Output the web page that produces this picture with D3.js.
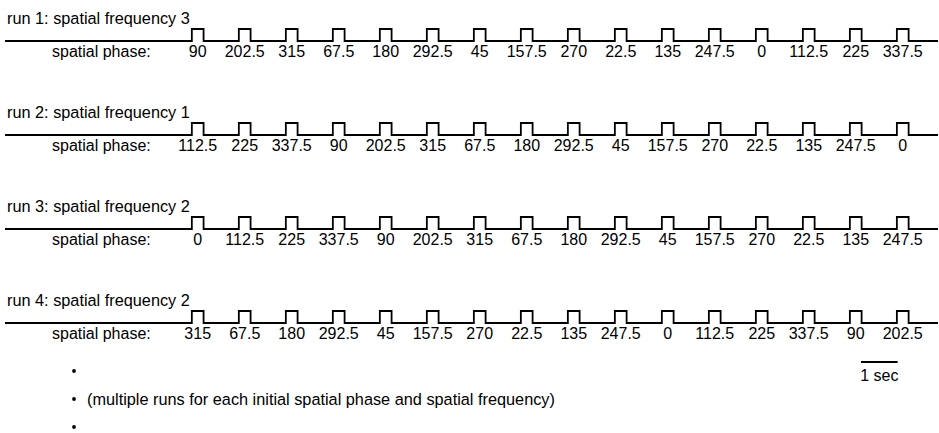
<!DOCTYPE html>
<html><head><meta charset="utf-8">
<script src="https://cdn.jsdelivr.net/npm/d3@7"></script>
<style>
html,body{margin:0;padding:0;background:#fff;}
svg{display:block;}
text{font-family:"Liberation Sans",Arial,sans-serif;fill:#000;}
</style></head>
<body>
<script>
// ---- data ----
const runTitles = ["run 1: spatial frequency 3","run 2: spatial frequency 1","run 3: spatial frequency 2","run 4: spatial frequency 2"];
const run1Phases = [90,202.5,315,67.5,180,292.5,45,157.5,270,22.5,135,247.5,0,112.5,225,337.5];
const run2Phases = [112.5,225,337.5,90,202.5,315,67.5,180,292.5,45,157.5,270,22.5,135,247.5,0];
const run3Phases = [0,112.5,225,337.5,90,202.5,315,67.5,180,292.5,45,157.5,270,22.5,135,247.5];
const run4Phases = [315,67.5,180,292.5,45,157.5,270,22.5,135,247.5,0,112.5,225,337.5,90,202.5];
const phaseLabel = "spatial phase:";
const scaleBarLabel = "1 sec";
const bulletLines = ["", "(multiple runs for each initial spatial phase and spatial frequency)", ""];
const stimIndex = d3.range(16);

const runs = [run1Phases, run2Phases, run3Phases, run4Phases];

const W = 939, H = 433;
const svg = d3.select("body").append("svg").attr("width", W).attr("height", H);

// time scale: one stimulus per period
const x = d3.scaleLinear().domain([-4.1, 15.75]).range([5, 938]);
const period = 1;
const pulseW = 0.25;
const rowY = d3.scaleLinear().domain([0, 3]).range([0, 282]);
const FS = 16;

runs.forEach((phases, r) => {
  const g = svg.append("g").attr("transform", `translate(0,${rowY(r)})`);
  const base = 41, top = 29;
  g.append("text").attr("x", 7).attr("y", 24).attr("font-size", 16.3).text(runTitles[r]);
  const pts = [[x.domain()[0], 0]];
  stimIndex.forEach(i => {
    const t0 = i * period - pulseW / 2, t1 = i * period + pulseW / 2;
    pts.push([t0, 0], [t0, 1], [t1, 1], [t1, 0]);
  });
  pts.push([x.domain()[1], 0]);
  const yv = d3.scaleLinear().domain([0, 1]).range([base, top]);
  g.append("path")
    .attr("d", d3.line().x(d => x(d[0])).y(d => yv(d[1]))(pts))
    .attr("fill", "none").attr("stroke", "#000").attr("stroke-width", 1.8);
  g.append("text").attr("x", 52).attr("y", 57).attr("font-size", FS).text(phaseLabel);
  g.selectAll("text.ph").data(phases).enter().append("text")
    .attr("class", "ph")
    .attr("x", (d, i) => x(i * period))
    .attr("y", 57).attr("font-size", FS).attr("text-anchor", "middle")
    .text(d => String(d));
});

// scale bar (1 sec)
const secPx = (x(1) - x(0)) * 0.78;
const barX0 = 861;
svg.append("line").attr("x1", barX0).attr("x2", barX0 + secPx).attr("y1", 362).attr("y2", 362)
  .attr("stroke", "#000").attr("stroke-width", 1.8);
svg.append("text").attr("x", barX0 + secPx / 2).attr("y", 381).attr("font-size", FS)
  .attr("text-anchor", "middle").text(scaleBarLabel);

// bullets
bulletLines.forEach((t, i) => {
  const y = 371 + i * 28;
  svg.append("circle").attr("cx", 74).attr("cy", y).attr("r", 1.9).attr("fill", "#000");
  svg.append("text").attr("x", 87).attr("y", y + 5.5).attr("font-size", 16.3).text(t);
});
</script>
</body></html>
